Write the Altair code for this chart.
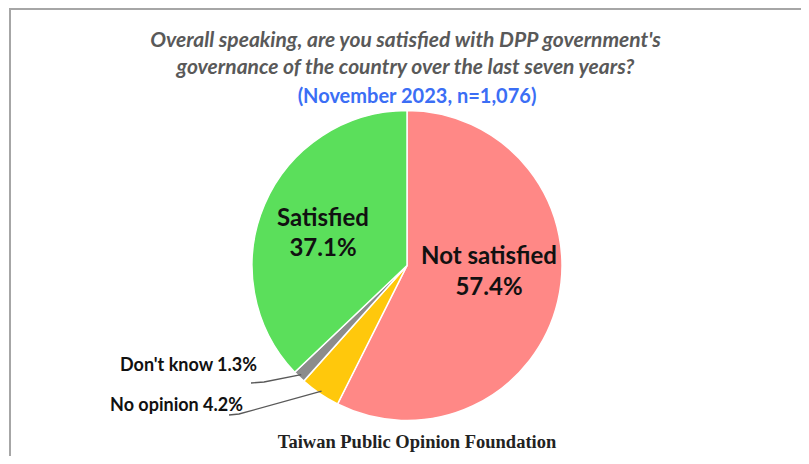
import math
import altair as alt
import pandas as pd

# ---- data ----
categories = ["Not satisfied", "No opinion", "Don't know", "Satisfied"]
values = [57.4, 4.2, 1.3, 37.1]
label_text = ["57.4%", "4.2%", "1.3%", "37.1%"]
colors = ["#FF8886", "#FFC80C", "#8C8C8C", "#5BDF5B"]

title_lines = [
    "Overall speaking, are you satisfied with DPP government's",
    "governance of the country over the last seven years?",
]
subtitle = "(November 2023, n=1,076)"
footer = "Taiwan Public Opinion Foundation"

# ---- layout ----
W, H = 793, 448
CX, CY, R = 398, 256.5, 155

pie_df = pd.DataFrame({"cat": categories, "value": values, "ord": range(len(categories))})

arc = alt.Chart(pie_df).mark_arc(outerRadius=R, stroke="white", strokeWidth=1.5).encode(
    theta=alt.Theta("value:Q", stack=True),
    order=alt.Order("ord:Q"),
    color=alt.Color("cat:N", scale=alt.Scale(domain=categories, range=colors), legend=None),
    x=alt.value(CX),
    y=alt.value(CY),
)

# mid angles of slices (clockwise from top)
total = sum(values)
cum = 0
mid = {}
for c, v in zip(categories, values):
    mid[c] = (cum + v / 2) / total * 2 * math.pi
    cum += v

def edge(c, r):
    a = mid[c]
    return CX + r * math.sin(a), CY - r * math.cos(a)

# inner labels
inner = pd.DataFrame({
    "t": ["Satisfied", label_text[3], "Not satisfied", label_text[0]],
    "px": [314, 314, 480, 480],
    "py": [210, 240, 248, 279],
})
inner_txt = alt.Chart(inner).mark_text(
    font="Lato", fontSize=24, fontWeight="bold", color="#111111", baseline="middle", align="center"
).encode(x=alt.X("px:Q", scale=None), y=alt.Y("py:Q", scale=None), text="t:N")

# outer labels
outer = pd.DataFrame({
    "t": [f"{categories[2]} {label_text[2]}", f"{categories[1]} {label_text[1]}"],
    "px": [248, 234],
    "py": [357, 397],
})
outer_txt = alt.Chart(outer).mark_text(
    font="Lato", fontSize=18, fontWeight="bold", color="#111111", baseline="middle", align="right"
).encode(x=alt.X("px:Q", scale=None), y=alt.Y("py:Q", scale=None), text="t:N")

# leader lines
ex1, ey1 = edge("Don't know", R - 3)
ex2, ey2 = edge("No opinion", R - 3)
lead = pd.DataFrame({
    "g": ["a", "a", "a", "b", "b", "b"],
    "o": [0, 1, 2, 0, 1, 2],
    "px": [242, 255, ex1, 220, 230, ex2],
    "py": [374, 373, ey1, 406, 405, ey2],
})
leaders = alt.Chart(lead).mark_line(color="#595959", strokeWidth=1.3).encode(
    x=alt.X("px:Q", scale=None), y=alt.Y("py:Q", scale=None), detail="g:N", order="o:Q"
)

# titles
tdf = pd.DataFrame({"t": title_lines, "px": [W / 2, W / 2], "py": [32, 59]})
title_txt = alt.Chart(tdf).mark_text(
    font="Lato", fontSize=21, fontWeight="bold", fontStyle="italic", color="#595959",
    baseline="middle", align="center"
).encode(x=alt.X("px:Q", scale=None), y=alt.Y("py:Q", scale=None), text="t:N")

sdf = pd.DataFrame({"t": [subtitle], "px": [408], "py": [88]})
sub_txt = alt.Chart(sdf).mark_text(
    font="Lato", fontSize=20, fontWeight="bold", color="#3B6EF5", baseline="middle", align="center"
).encode(x=alt.X("px:Q", scale=None), y=alt.Y("py:Q", scale=None), text="t:N")

fdf = pd.DataFrame({"t": [footer], "px": [408], "py": [433]})
foot_txt = alt.Chart(fdf).mark_text(
    font="Liberation Serif", fontSize=18.5, fontWeight="bold", color="#222222", baseline="middle", align="center"
).encode(x=alt.X("px:Q", scale=None), y=alt.Y("py:Q", scale=None), text="t:N")

# frame (top and left edges visible)
frame_df = pd.DataFrame({"x": [0, 1], "x2": [W, 1], "y": [0, 0], "y2": [0, H]})
frame = alt.Chart(frame_df).mark_rule(color="#A6A6A6", strokeWidth=2).encode(
    x=alt.X("x:Q", scale=None), x2="x2:Q", y=alt.Y("y:Q", scale=None), y2="y2:Q"
)

chart = alt.layer(frame, arc, leaders, inner_txt, outer_txt, title_txt, sub_txt, foot_txt).properties(
    width=W, height=H, autosize=alt.AutoSizeParams(type="fit", contains="padding"), padding=0
).configure_view(stroke=None)

chart.save("out.html", embed_options={"renderer": "svg", "actions": False})
